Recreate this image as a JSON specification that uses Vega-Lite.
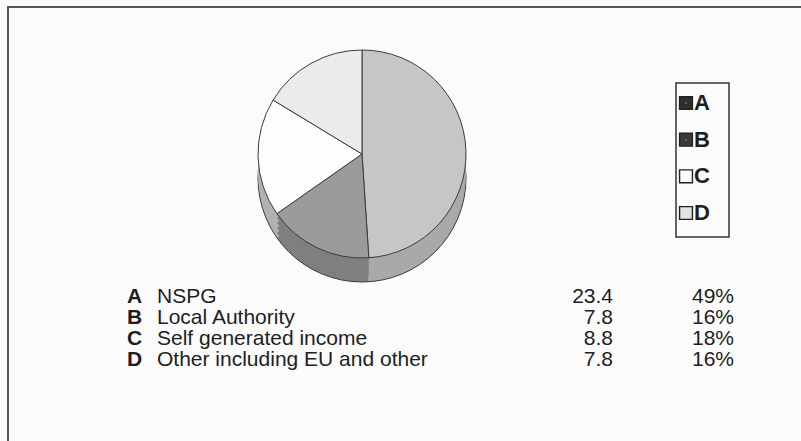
{
  "$schema": "https://vega.github.io/schema/vega-lite/v6.json",
  "width": 801,
  "height": 441,
  "padding": 0,
  "autosize": {"type": "none"},
  "background": "#fbfbfb",
  "config": {"view": {"stroke": null}, "font": "Liberation Sans"},
  "data": {
    "values": [
      {"letter": "A", "label": "NSPG", "value": 23.4, "share": 0.49},
      {"letter": "B", "label": "Local Authority", "value": 7.8, "share": 0.16},
      {"letter": "C", "label": "Self generated income", "value": 8.8, "share": 0.18},
      {"letter": "D", "label": "Other including EU and other", "value": 7.8, "share": 0.16}
    ]
  },
  "resolve": {"scale": {"y": "independent"}},
  "layer": [
    {
      "encoding": {
        "x": {"datum": 362, "type": "quantitative", "scale": {"domain": [0, 801], "nice": false, "zero": false}, "axis": null}
      },
      "layer": [
        {
          "mark": {"type": "arc", "radius": 104, "strokeWidth": 0},
          "encoding": {
            "y": {"datum": 178, "type": "quantitative", "scale": {"domain": [0, 441], "reverse": true, "nice": false, "zero": false}, "axis": null},
            "theta": {"field": "value", "type": "quantitative", "stack": true},
            "order": {"field": "letter", "type": "ordinal"},
            "fill": {"field": "letter", "type": "nominal", "scale": {"domain": ["A", "B", "C", "D"], "range": ["#a9a9a9", "#7f7f7f", "#b2b2b2", "#cfcfcf"]}, "legend": null}
          }
        },
        {
          "mark": {"type": "arc", "radius": 104, "fill": null, "filled": false, "stroke": "#3c3c3c", "strokeWidth": 1},
          "encoding": {
            "y": {"datum": 178, "type": "quantitative"},
            "theta": {"aggregate": "sum", "field": "value", "type": "quantitative"}
          }
        },
        {
          "mark": {"type": "arc", "radius": 104, "strokeWidth": 0},
          "encoding": {
            "y": {"datum": 173, "type": "quantitative"},
            "theta": {"field": "value", "type": "quantitative", "stack": true},
            "order": {"field": "letter", "type": "ordinal"},
            "fill": {"field": "letter", "type": "nominal", "legend": null}
          }
        },
        {
          "mark": {"type": "arc", "radius": 104, "strokeWidth": 0},
          "encoding": {
            "y": {"datum": 168, "type": "quantitative"},
            "theta": {"field": "value", "type": "quantitative", "stack": true},
            "order": {"field": "letter", "type": "ordinal"},
            "fill": {"field": "letter", "type": "nominal", "legend": null}
          }
        },
        {
          "mark": {"type": "arc", "radius": 104, "strokeWidth": 0},
          "encoding": {
            "y": {"datum": 163, "type": "quantitative"},
            "theta": {"field": "value", "type": "quantitative", "stack": true},
            "order": {"field": "letter", "type": "ordinal"},
            "fill": {"field": "letter", "type": "nominal", "legend": null}
          }
        },
        {
          "mark": {"type": "arc", "radius": 104, "strokeWidth": 0},
          "encoding": {
            "y": {"datum": 158, "type": "quantitative"},
            "theta": {"field": "value", "type": "quantitative", "stack": true},
            "order": {"field": "letter", "type": "ordinal"},
            "fill": {"field": "letter", "type": "nominal", "legend": null}
          }
        },
        {
          "mark": {"type": "arc", "radius": 104, "stroke": "#3c3c3c", "strokeWidth": 1},
          "encoding": {
            "y": {"datum": 154, "type": "quantitative"},
            "theta": {"field": "value", "type": "quantitative", "stack": true},
            "order": {"field": "letter", "type": "ordinal"},
            "color": {
              "field": "letter",
              "type": "nominal",
              "scale": {"domain": ["A", "B", "C", "D"], "range": ["#c6c6c6", "#9b9b9b", "#fdfdfd", "#ebebeb"]},
              "legend": null
            }
          }
        },
        {
          "data": {"values": [{}]},
          "mark": {"type": "rect", "fill": null, "filled": false, "stroke": "#333333", "strokeWidth": 1.5},
          "encoding": {
            "x": {"datum": 676, "type": "quantitative"},
            "x2": {"datum": 729},
            "y": {"datum": 83, "type": "quantitative"},
            "y2": {"datum": 237}
          }
        },
        {
          "data": {"values": [{}]},
          "mark": {"type": "rule", "color": "#555555", "strokeWidth": 2},
          "encoding": {
            "x": {"datum": 7, "type": "quantitative"},
            "x2": {"datum": 801},
            "y": {"datum": 7, "type": "quantitative"}
          }
        },
        {
          "data": {"values": [{}]},
          "mark": {"type": "rule", "color": "#555555", "strokeWidth": 2},
          "encoding": {
            "x": {"datum": 8, "type": "quantitative"},
            "y": {"datum": 7, "type": "quantitative"},
            "y2": {"datum": 441}
          }
        }
      ]
    },
    {
      "encoding": {
        "y": {"field": "letter", "type": "ordinal", "scale": {"type": "point", "domain": ["A", "B", "C", "D"], "range": [103, 213], "padding": 0}, "axis": null}
      },
      "layer": [
        {
          "mark": {"type": "point", "shape": "square", "size": 48, "filled": false, "strokeWidth": 6, "opacity": 1},
          "encoding": {
            "x": {"datum": 686, "type": "quantitative"},
            "stroke": {"field": "letter", "type": "nominal", "scale": {"domain": ["A", "B", "C", "D"], "range": ["#2e2e2e", "#3a3a3a", "#ffffff", "#e2e2e2"]}, "legend": null}
          }
        },
        {
          "mark": {"type": "point", "shape": "square", "size": 165, "filled": false, "stroke": "#222222", "strokeWidth": 1.4, "opacity": 1},
          "encoding": {
            "x": {"datum": 686, "type": "quantitative"}
          }
        },
        {
          "mark": {"type": "text", "align": "left", "baseline": "middle", "fontSize": 22, "fontWeight": "bold", "font": "Liberation Sans", "color": "#1e1e1e"},
          "encoding": {
            "x": {"datum": 694, "type": "quantitative"},
            "text": {"field": "letter"}
          }
        }
      ]
    },
    {
      "encoding": {
        "y": {"field": "letter", "type": "ordinal", "scale": {"type": "point", "domain": ["A", "B", "C", "D"], "range": [297, 360], "padding": 0}, "axis": null}
      },
      "layer": [
        {
          "mark": {"type": "text", "align": "left", "baseline": "middle", "fontSize": 21, "fontWeight": "bold", "color": "#1e1e1e"},
          "encoding": {
            "x": {"datum": 127, "type": "quantitative"},
            "text": {"field": "letter"}
          }
        },
        {
          "mark": {"type": "text", "align": "left", "baseline": "middle", "fontSize": 21, "color": "#1e1e1e"},
          "encoding": {
            "x": {"datum": 157, "type": "quantitative"},
            "text": {"field": "label"}
          }
        },
        {
          "mark": {"type": "text", "align": "right", "baseline": "middle", "fontSize": 21, "color": "#1e1e1e"},
          "encoding": {
            "x": {"datum": 613, "type": "quantitative"},
            "text": {"field": "value", "type": "quantitative", "format": ".1f"}
          }
        },
        {
          "mark": {"type": "text", "align": "right", "baseline": "middle", "fontSize": 21, "color": "#1e1e1e"},
          "encoding": {
            "x": {"datum": 734, "type": "quantitative"},
            "text": {"field": "share", "type": "quantitative", "format": ".0%"}
          }
        }
      ]
    }
  ]
}
